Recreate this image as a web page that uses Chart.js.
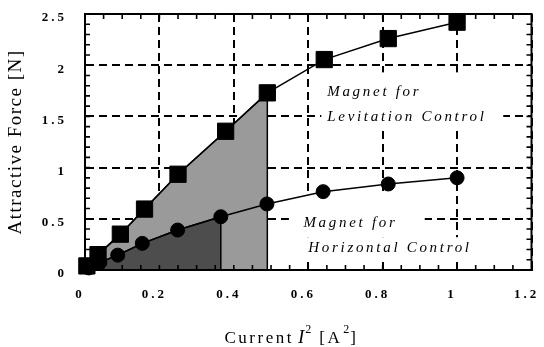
<!DOCTYPE html>
<html>
<head>
<meta charset="utf-8">
<script src="https://cdn.jsdelivr.net/npm/chart.js@4/dist/chart.umd.min.js"></script>
<style>
  html, body { margin: 0; padding: 0; background: #fff; }
  canvas { display: block; }
</style>
</head>
<body>
<canvas id="c" width="544" height="347"></canvas>
<script>
// Attractive force against squared coil current for the two magnet types
const levCurrentSq = [0.005, 0.035, 0.095, 0.16, 0.25, 0.378, 0.49, 0.643, 0.815, 1.0];
const levForce     = [0.04, 0.15, 0.35, 0.595, 0.935, 1.355, 1.73, 2.055, 2.26, 2.42];
const horCurrentSq = [0.01, 0.04, 0.088, 0.154, 0.249, 0.365, 0.489, 0.64, 0.815, 1.0];
const horForce     = [0.02, 0.075, 0.145, 0.26, 0.39, 0.52, 0.645, 0.765, 0.84, 0.9];

const xTickValues = [0, 0.2, 0.4, 0.6, 0.8, 1.0, 1.2];
const xTickLabels = ['0', '0.2', '0.4', '0.6', '0.8', '1', '1.2'];
const yTickValues = [0, 0.5, 1.0, 1.5, 2.0, 2.5];
const yTickLabels = ['0', '0.5', '1', '1.5', '2', '2.5'];

// how many leading points of each curve the shaded operating range spans
const levShadeCount = 7;
const horShadeCount = 6;

const SERIF = '"Liberation Serif", "Times New Roman", serif';

const toPoints = (xs, ys) => xs.map((x, i) => ({ x, y: ys[i] }));
// area under the first n points, closed by a drop to the x axis
const shadeRegion = (xs, ys, n) => [
  ...toPoints(xs.slice(0, n), ys.slice(0, n)),
  { x: xs[n - 1], y: 0 }
];

// in-plot captions (data units) with the white panels behind them
const notes = [
  { text: 'Magnet for',         x: 0.651, y: 1.735 },
  { text: 'Levitation Control', x: 0.651, y: 1.49 },
  { text: 'Magnet for',         x: 0.587, y: 0.458 },
  { text: 'Horizontal Control', x: 0.600, y: 0.214 }
];
const notePanels = [
  { x0: 0.635, x1: 1.124, y0: 1.365, y1: 1.93 },
  { x0: 0.548, x1: 0.913, y0: 0.32,  y1: 0.76 },
  { x0: 0.569, x1: 1.040, y0: 0.078, y1: 0.32 }
];

const decor = {
  id: 'decor',
  beforeDraw(chart) {
    // spaced-out tick numerals
    chart.ctx.letterSpacing = '3px';
  },
  beforeDatasetsDraw(chart) {
    const { ctx, scales: { x, y } } = chart;
    ctx.save();
    ctx.fillStyle = '#fff';
    for (const p of notePanels) {
      const l = x.getPixelForValue(p.x0), r = x.getPixelForValue(p.x1);
      const t = y.getPixelForValue(p.y1), b = y.getPixelForValue(p.y0);
      ctx.fillRect(l, t, r - l, b - t);
    }
    ctx.fillStyle = '#000';
    ctx.font = 'italic 15px ' + SERIF;
    ctx.letterSpacing = '2.7px';
    ctx.textAlign = 'left';
    ctx.textBaseline = 'middle';
    for (const n of notes) {
      ctx.fillText(n.text, x.getPixelForValue(n.x), y.getPixelForValue(n.y));
    }
    ctx.restore();
  },
  afterDatasetsDraw(chart) {
    const { ctx, chartArea: a, scales: { x, y } } = chart;
    ctx.save();
    ctx.strokeStyle = '#000';
    // inward minor ticks on all four sides
    ctx.lineWidth = 1.6;
    ctx.beginPath();
    for (let i = 1; i < 24; i++) {
      const px = x.getPixelForValue(i * 0.05);
      ctx.moveTo(px, a.bottom); ctx.lineTo(px, a.bottom - 5);
      ctx.moveTo(px, a.top);    ctx.lineTo(px, a.top + 5);
    }
    for (let i = 1; i < 25; i++) {
      const py = y.getPixelForValue(i * 0.1);
      ctx.moveTo(a.left, py);  ctx.lineTo(a.left + 5, py);
      ctx.moveTo(a.right, py); ctx.lineTo(a.right - 5, py);
    }
    ctx.stroke();
    // plot frame
    ctx.lineWidth = 2;
    ctx.strokeRect(a.left, a.top, a.right - a.left, a.bottom - a.top);
    ctx.restore();
  },
  afterDraw(chart) {
    const { ctx, chartArea: a, scales: { x } } = chart;
    ctx.save();
    ctx.fillStyle = '#000';
    // y axis title
    ctx.save();
    ctx.translate(16, (a.top + a.bottom) / 2);
    ctx.rotate(-Math.PI / 2);
    ctx.font = '19px ' + SERIF;
    ctx.letterSpacing = '1.5px';
    ctx.textAlign = 'center';
    ctx.textBaseline = 'middle';
    ctx.fillText('Attractive Force [N]', 0, 0);
    ctx.restore();
    // x axis title with italic I and superscripts
    const parts = [
      { t: 'Current', f: '17px ',        ls: 2.5, dy: 0,   gap: 4 },
      { t: 'I',       f: 'italic 19px ', ls: 0,   dy: 0,   gap: 1 },
      { t: '2',       f: '12px ',        ls: 0,   dy: -10, gap: 8 },
      { t: '[A',      f: '17px ',        ls: 2.5, dy: 0,   gap: 1 },
      { t: '2',       f: '12px ',        ls: 0,   dy: -10, gap: 1 },
      { t: ']',       f: '17px ',        ls: 0,   dy: 0,   gap: 0 }
    ];
    let cx = x.getPixelForValue(0.375);
    const base = 343;
    ctx.textAlign = 'left';
    ctx.textBaseline = 'alphabetic';
    for (const p of parts) {
      ctx.font = p.f + SERIF;
      ctx.letterSpacing = p.ls + 'px';
      ctx.fillText(p.t, cx, base + p.dy);
      cx += ctx.measureText(p.t).width + p.gap;
    }
    ctx.restore();
  }
};

const tickFont = { family: SERIF, size: 13, weight: 'bold' };

new Chart(document.getElementById('c'), {
  type: 'line',
  data: {
    datasets: [
      {
        label: 'Magnet for Levitation Control',
        data: toPoints(levCurrentSq, levForce),
        borderColor: '#000', borderWidth: 1.5,
        pointStyle: 'rect', pointRadius: 11.5, pointBorderWidth: 1,
        pointBackgroundColor: '#000', pointBorderColor: '#000',
        fill: false, tension: 0, clip: false, order: 1
      },
      {
        label: 'Magnet for Horizontal Control',
        data: toPoints(horCurrentSq, horForce),
        borderColor: '#000', borderWidth: 1.5,
        pointStyle: 'circle', pointRadius: 7, pointBorderWidth: 1,
        pointBackgroundColor: '#000', pointBorderColor: '#000',
        fill: false, tension: 0, clip: false, order: 2
      },
      {
        label: 'levitation range',
        data: shadeRegion(levCurrentSq, levForce, levShadeCount),
        borderColor: '#000', borderWidth: 1.5, pointRadius: 0,
        backgroundColor: '#9a9a9a', fill: 'origin', tension: 0, order: 4
      },
      {
        label: 'horizontal range',
        data: shadeRegion(horCurrentSq, horForce, horShadeCount),
        borderColor: '#000', borderWidth: 1.5, pointRadius: 0,
        backgroundColor: '#4d4d4d', fill: 'origin', tension: 0, order: 3
      }
    ]
  },
  options: {
    responsive: false,
    animation: false,
    devicePixelRatio: 1,
    layout: { padding: { left: 0, right: 5.4, top: 14, bottom: 0 } },
    plugins: { legend: { display: false }, tooltip: { enabled: false } },
    scales: {
      x: {
        type: 'linear', min: 0, max: 1.2,
        afterBuildTicks(s) { s.ticks = xTickValues.map(v => ({ value: v })); },
        afterFit(s) { s.height = 77; s.paddingLeft = 0; s.paddingRight = 0; },
        ticks: {
          callback: (v, i) => xTickLabels[i],
          font: tickFont, color: '#000', padding: 17, labelOffset: -5,
          maxRotation: 0, autoSkip: false
        },
        grid: { color: '#000', lineWidth: 2, drawTicks: false },
        border: { display: true, color: '#000', width: 2, dash: [8, 5] }
      },
      y: {
        type: 'linear', min: 0, max: 2.5,
        afterBuildTicks(s) { s.ticks = yTickValues.map(v => ({ value: v })); },
        afterFit(s) { s.width = 85; s.paddingTop = 0; s.paddingBottom = 0; },
        ticks: {
          callback: (v, i) => yTickLabels[i],
          font: tickFont, color: '#000', padding: 18, labelOffset: 4,
          autoSkip: false
        },
        grid: { color: '#000', lineWidth: 2, drawTicks: false },
        border: { display: true, color: '#000', width: 2, dash: [8, 5] }
      }
    }
  },
  plugins: [decor]
});
</script>
</body>
</html>
